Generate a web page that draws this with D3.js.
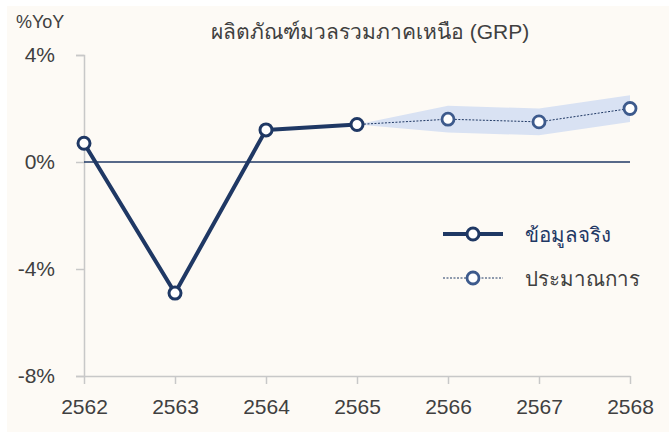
<!DOCTYPE html>
<html>
<head>
<meta charset="utf-8">
<script src="https://cdn.jsdelivr.net/npm/d3@7"></script>
<style>
  body { margin: 0; background: #ffffff; }
  svg { display: block; font-family: "Liberation Sans", "Noto Sans", sans-serif; }
</style>
</head>
<body>
<svg id="chart" width="669" height="432"></svg>
<script>
// data
const years = ['2562', '2563', '2564', '2565', '2566', '2567', '2568'];
const actual = [0.7, -4.9, 1.2, 1.4];            // 2562-2565
const forecastYears = ['2565', '2566', '2567', '2568'];
const forecast = [1.4, 1.6, 1.5, 2.0];
const bandLow = [1.4, 1.1, 1.0, 1.5];
const bandHigh = [1.4, 2.1, 2.0, 2.5];
const yTicks = [4, 0, -4, -8];

const navy = '#1f3864';
const fcColor = '#3d5a8c';
const textColor = '#404040';

const svg = d3.select('#chart');

svg.append('rect')
  .attr('x', 7).attr('y', 6).attr('width', 662).attr('height', 426)
  .attr('fill', '#fdfaf5');

const x = d3.scalePoint().domain(years).range([84, 630]);
const y = d3.scaleLinear().domain([-8, 4]).range([376, 55]);

// forecast band
const band = forecastYears.map((yr, i) => ({ yr, lo: bandLow[i], hi: bandHigh[i] }));
svg.append('path')
  .datum(band)
  .attr('fill', '#d9e2f3')
  .attr('d', d3.area().x(d => x(d.yr)).y0(d => y(d.lo)).y1(d => y(d.hi)));

// y axis
const yAxis = svg.append('g')
  .attr('transform', 'translate(84,0)')
  .call(d3.axisLeft(y).tickValues(yTicks).tickSize(8).tickPadding(21).tickFormat(d => d + '%'));
yAxis.select('.domain').attr('stroke', '#c8c8c8').attr('stroke-width', 1.5);
yAxis.selectAll('.tick line').attr('stroke', '#c8c8c8').attr('stroke-width', 1.5);
yAxis.selectAll('.tick text').attr('fill', textColor).attr('font-size', 21)
  .attr('font-family', '"Liberation Sans", sans-serif');

// x axis
const xAxis = svg.append('g')
  .attr('transform', 'translate(0,376)')
  .call(d3.axisBottom(x).tickSize(8).tickSizeOuter(0).tickPadding(15));
xAxis.select('.domain').attr('stroke', '#c8c8c8').attr('stroke-width', 1.5);
xAxis.selectAll('.tick line').attr('stroke', '#c8c8c8').attr('stroke-width', 1.5);
xAxis.selectAll('.tick text').attr('fill', textColor).attr('font-size', 21)
  .attr('font-family', '"Liberation Sans", sans-serif');

// zero line
svg.append('line')
  .attr('x1', x(years[0])).attr('x2', x(years[years.length - 1]))
  .attr('y1', y(0)).attr('y2', y(0))
  .attr('stroke', navy).attr('stroke-width', 1.3);

// forecast line
const fcData = forecastYears.map((yr, i) => ({ yr, v: forecast[i] }));
svg.append('path')
  .datum(fcData)
  .attr('fill', 'none')
  .attr('stroke', navy)
  .attr('stroke-width', 1)
  .attr('stroke-dasharray', '2,1.5')
  .attr('d', d3.line().x(d => x(d.yr)).y(d => y(d.v)));

svg.selectAll('.fc-dot')
  .data(fcData.slice(1))
  .enter().append('circle')
  .attr('class', 'fc-dot')
  .attr('cx', d => x(d.yr)).attr('cy', d => y(d.v))
  .attr('r', 6)
  .attr('fill', '#fff').attr('stroke', fcColor).attr('stroke-width', 2.8);

// actual line
const acData = actual.map((v, i) => ({ yr: years[i], v }));
svg.append('path')
  .datum(acData)
  .attr('fill', 'none')
  .attr('stroke', navy)
  .attr('stroke-width', 4)
  .attr('stroke-linejoin', 'round')
  .attr('d', d3.line().x(d => x(d.yr)).y(d => y(d.v)));

svg.selectAll('.ac-dot')
  .data(acData)
  .enter().append('circle')
  .attr('class', 'ac-dot')
  .attr('cx', d => x(d.yr)).attr('cy', d => y(d.v))
  .attr('r', 6)
  .attr('fill', '#fff').attr('stroke', navy).attr('stroke-width', 3);

// title and unit
svg.append('text')
  .attr('x', 370).attr('y', 39)
  .attr('text-anchor', 'middle')
  .attr('fill', textColor).attr('font-size', 21)
  .text('ผลิตภัณฑ์มวลรวมภาคเหนือ (GRP)');

svg.append('text')
  .attr('x', 16).attr('y', 28)
  .attr('fill', textColor).attr('font-size', 18)
  .text('%YoY');

// legend
const legend = svg.append('g');
const lg1 = legend.append('g').attr('transform', 'translate(443,234)');
lg1.append('line').attr('x1', 0).attr('x2', 60)
  .attr('stroke', navy).attr('stroke-width', 4);
lg1.append('circle').attr('cx', 30).attr('r', 6)
  .attr('fill', '#fff').attr('stroke', navy).attr('stroke-width', 3);
lg1.append('text').attr('x', 82).attr('y', 8)
  .attr('fill', navy).attr('font-size', 20.5).text('ข้อมูลจริง');

const lg2 = legend.append('g').attr('transform', 'translate(443,278)');
lg2.append('line').attr('x1', 0).attr('x2', 60)
  .attr('stroke', navy).attr('stroke-width', 1).attr('stroke-dasharray', '2,1.5');
lg2.append('circle').attr('cx', 30).attr('r', 6)
  .attr('fill', '#fff').attr('stroke', fcColor).attr('stroke-width', 2.8);
lg2.append('text').attr('x', 82).attr('y', 8)
  .attr('fill', textColor).attr('font-size', 20.5).text('ประมาณการ');
</script>
</body>
</html>
